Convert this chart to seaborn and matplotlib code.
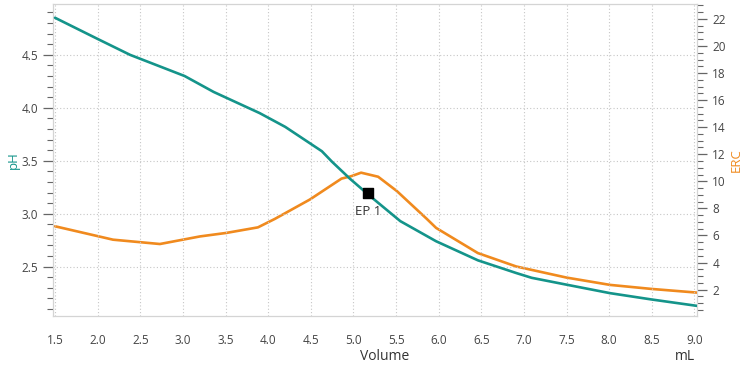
import matplotlib
matplotlib.use("Agg")
import matplotlib.pyplot as plt
from matplotlib.ticker import MultipleLocator, FixedLocator
import seaborn as sns
import pandas as pd

# ---- data ----
vol_ph = [1.5, 2.0, 2.38, 3.02, 3.36, 3.90, 4.20, 4.63, 4.75, 4.96, 5.19, 5.55,
          5.97, 6.46, 6.91, 7.09, 7.50, 8.01, 8.50, 9.03]
ph = [4.85, 4.65, 4.50, 4.30, 4.15, 3.95, 3.82, 3.59, 3.49, 3.33, 3.17, 2.93,
      2.74, 2.56, 2.44, 2.395, 2.33, 2.25, 2.19, 2.13]

vol_erc = [1.5, 2.18, 2.73, 3.20, 3.51, 3.88, 4.08, 4.49, 4.86, 4.98, 5.09, 5.29,
           5.51, 5.86, 5.97, 6.46, 6.91, 7.50, 8.01, 8.50, 9.03]
erc = [6.68, 5.69, 5.37, 5.93, 6.19, 6.60, 7.23, 8.66, 10.2, 10.39, 10.64, 10.34,
       9.28, 7.23, 6.56, 4.70, 3.71, 2.89, 2.35, 2.05, 1.78]

ep_vol = [5.17]
ep_ph = [3.20]
ep_label = "EP 1"

x_ticks = [1.5, 2.0, 2.5, 3.0, 3.5, 4.0, 4.5, 5.0, 5.5, 6.0, 6.5, 7.0, 7.5, 8.0, 8.5, 9.0]
ph_ticks = [2.5, 3.0, 3.5, 4.0, 4.5]
erc_ticks = [2, 4, 6, 8, 10, 12, 14, 16, 18, 20, 22]

TEAL = "#14948a"
ORANGE = "#f08a1e"
TXT = "#444444"
SPINE = "#d4d4d4"
TICK = "#666666"

sns.set_style("white")
plt.rcParams["font.family"] = ["Open Sans", "DejaVu Sans"]

fig = plt.figure(figsize=(7.5, 3.74), dpi=100)
ax = fig.add_axes([0.0711, 0.155, 0.9293 - 0.0711, 0.9893 - 0.155])
ax2 = ax.twinx()

df_ph = pd.DataFrame({"Volume": vol_ph, "pH": ph})
df_erc = pd.DataFrame({"Volume": vol_erc, "ERC": erc})

sns.lineplot(data=df_ph, x="Volume", y="pH", ax=ax, color=TEAL, lw=1.9, sort=False, zorder=3)
sns.lineplot(data=df_erc, x="Volume", y="ERC", ax=ax2, color=ORANGE, lw=1.9, sort=False, zorder=3)

ax.set_zorder(ax2.get_zorder() + 1)
ax.patch.set_visible(False)

ax.scatter(ep_vol, ep_ph, marker="s", s=50, color="black", zorder=5)
ax.annotate(ep_label, (ep_vol[0], ep_ph[0]), xytext=(0, -9), textcoords="offset points",
            ha="center", va="top", fontsize=9.5, color="#333333")

ax.set_xlim(1.48, 9.03)
ax.set_ylim(2.034, 4.98)
ax2.set_ylim(0.05, 23.1)

ax.xaxis.set_major_locator(FixedLocator(x_ticks))
ax.xaxis.set_minor_locator(MultipleLocator(0.1))
ax.yaxis.set_major_locator(FixedLocator(ph_ticks))
ax.yaxis.set_minor_locator(MultipleLocator(0.1))
ax2.yaxis.set_major_locator(FixedLocator(erc_ticks))
ax2.yaxis.set_minor_locator(MultipleLocator(0.5))

ax.set_xticklabels([f"{v:.1f}" for v in x_ticks])
ax.set_yticklabels([f"{v:.1f}" for v in ph_ticks])
ax2.set_yticklabels([str(v) for v in erc_ticks])

for a in (ax, ax2):
    a.tick_params(which="major", length=7, width=0.9, color=TICK, labelsize=8.5, labelcolor=TXT, pad=4)
    a.tick_params(which="minor", length=4, width=0.8, color=TICK)
    for s in a.spines.values():
        s.set_color(SPINE)
        s.set_linewidth(0.8)
ax.tick_params(axis="x", which="major", pad=6)

ax.grid(True, which="major", color="#c6c6c6", linestyle=(0, (1, 2)), linewidth=0.8)
ax2.grid(False)

ax.set_xlabel("")
ax.set_ylabel("pH", color=TEAL, fontsize=9.5, labelpad=1)
ax2.set_ylabel("ERC", color=ORANGE, fontsize=9.5, labelpad=3)

fig.text(385 / 750, 1 - 357 / 374, "Volume", ha="center", va="center", fontsize=10, color="#333333")
fig.text(695 / 750, 1 - 357 / 374, "mL", ha="right", va="center", fontsize=10, color="#333333")

fig.savefig("out.png", dpi=100)
